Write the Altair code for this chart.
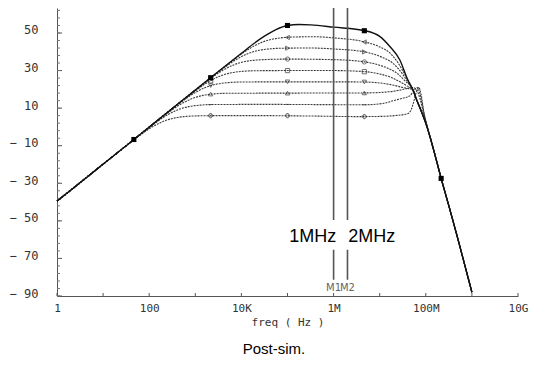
import altair as alt
import pandas as pd

# ---------------- values ----------------
GAINS = [6, 12, 18, 24, 30, 36, 42, 48, 54]

# common low-frequency asymptote (log10 f, dB)
ASYM_LOGF = [0.0, 0.5, 1.0, 1.5, 2.0, 2.5, 3.0, 3.5]
ASYM_DB = [-39.5, -29.7, -19.8, -10.0, -0.1, 9.8, 19.6, 29.5]

# common high-frequency roll-off
PRE_ROLL_LOGF = [7.8, 7.9, 8.0]
PRE_ROLL_DB = [14.5, 8.5, 2.0]
ROLL_LOGF = [8.1, 8.2, 8.34, 8.5, 8.7, 8.85, 9.0]
ROLL_DB = [-6.0, -15.0, -28.0, -42.0, -60.0, -74.0, -88.0]

G6_LOGF = [1.81, 2.06, 2.31, 2.56, 2.81, 3.06, 3.5, 4.5, 5.5, 6.5, 7.0, 7.4, 7.6, 7.68, 7.74, 7.8, 7.85, 7.9, 7.96, 8.02]
G6_DB = [-4.3, -0.1, 3.0, 4.8, 5.6, 5.9, 6.0, 6.0, 5.8, 5.5, 5.6, 6.2, 7.0, 9.0, 13.5, 19.0, 21.0, 17.0, 7.5, 1.0]
G12_LOGF = [1.86, 2.11, 2.36, 2.61, 2.86, 3.11, 3.36, 4.5, 5.5, 6.68, 7.1, 7.3, 7.5, 7.65, 7.75, 7.82, 7.88, 7.95, 8.02]
G12_DB = [-2.9, 1.7, 5.9, 9.0, 10.8, 11.6, 11.9, 12.0, 11.9, 11.8, 12.6, 14.0, 15.3, 16.5, 19.5, 21.0, 17.0, 8.5, 1.2]
G18_LOGF = [2.17, 2.42, 2.67, 2.92, 3.17, 3.42, 3.67, 5.0, 6.68, 7.2, 7.44, 7.6, 7.72, 7.8, 7.88, 7.95, 8.02]
G18_DB = [3.1, 7.7, 11.9, 15.0, 16.8, 17.6, 17.9, 18.0, 18.1, 18.7, 19.6, 20.5, 21.0, 19.8, 14.5, 7.5, 1.2]
G24_LOGF = [2.47, 2.72, 2.97, 3.22, 3.47, 3.72, 3.97, 5.0, 6.0, 6.68, 7.0, 7.3, 7.5, 7.65, 7.72]
G24_DB = [9.1, 13.7, 17.9, 21.0, 22.8, 23.6, 23.9, 24.0, 24.0, 23.9, 23.4, 22.2, 21.0, 20.3, 19.8]
G30_LOGF = [2.78, 3.03, 3.28, 3.53, 3.78, 4.03, 4.28, 5.0, 6.0, 6.68, 7.0, 7.25, 7.44, 7.6, 7.72]
G30_DB = [15.1, 19.7, 23.9, 27.0, 28.8, 29.6, 29.9, 30.0, 30.0, 29.4, 28.2, 26.3, 24.0, 21.7, 19.8]
G36_LOGF = [3.08, 3.33, 3.58, 3.83, 4.08, 4.33, 4.58, 5.0, 6.0, 6.68, 7.0, 7.2, 7.38, 7.55, 7.72]
G36_DB = [21.1, 25.7, 29.9, 33.0, 34.8, 35.6, 35.9, 36.1, 35.8, 34.6, 32.8, 31.0, 28.5, 24.5, 19.8]
G42_LOGF = [3.39, 3.64, 3.89, 4.14, 4.39, 4.64, 4.89, 5.5, 6.0, 6.68, 7.0, 7.29, 7.5, 7.62, 7.72]
G42_DB = [27.1, 31.7, 35.9, 39.0, 40.8, 41.6, 41.9, 42.0, 41.5, 39.9, 37.6, 33.8, 28.0, 23.5, 19.8]
G48_LOGF = [3.69, 3.94, 4.19, 4.44, 4.69, 4.94, 5.2, 5.6, 6.0, 6.68, 7.0, 7.22, 7.4, 7.51, 7.62, 7.72]
G48_DB = [33.1, 37.7, 41.9, 45.0, 46.8, 47.6, 47.9, 48.0, 47.4, 45.2, 42.6, 39.4, 34.0, 29.5, 24.5, 19.8]
G54_LOGF = [4.0, 4.25, 4.5, 4.75, 5.0, 5.25, 5.5, 6.0, 6.68, 7.0, 7.22, 7.44, 7.6, 7.72]
G54_DB = [39.2, 44.0, 48.3, 51.8, 54.0, 54.5, 54.3, 53.1, 51.2, 48.2, 42.8, 35.5, 25.5, 19.8]

# how many asymptote points each curve follows before its own points
ASYM_COUNT = [4, 4, 5, 5, 6, 7, 7, 8, 8]
# whether the curve meets the roll-off through the common pre-roll segment
USES_PRE_ROLL = [False, False, False, True, True, True, True, True, True]

CURVE_LOGF = [G6_LOGF, G12_LOGF, G18_LOGF, G24_LOGF, G30_LOGF, G36_LOGF, G42_LOGF, G48_LOGF, G54_LOGF]
CURVE_DB = [G6_DB, G12_DB, G18_DB, G24_DB, G30_DB, G36_DB, G42_DB, G48_DB, G54_DB]

# symbol markers
MARK_LOGF = [3.333, 5.0, 6.667]
MARK_DB = {
    6: [6.0, 6.0, 5.5],
    12: [11.9, 12.0, 11.8],
    18: [17.5, 18.0, 18.1],
    24: [22.0, 24.0, 23.9],
    30: [24.5, 30.0, 29.4],
    36: [None, 36.1, 34.6],
    42: [None, 41.9, 39.9],
    48: [None, 47.6, 45.2],
}
MARK_SHAPES = {6: "cross", 12: "stroke", 18: "triangle-up", 24: "triangle-down",
               30: "square", 36: "circle", 42: "triangle-right", 48: "triangle-left"}
TOP_MARK_LOGF = [1.667, 3.333, 5.0, 6.667, 8.333]
TOP_MARK_DB = [-6.7, 26.2, 54.0, 51.2, -27.4]

# axes
XTICK_VALUES = [0, 2, 4, 6, 8, 10]
XTICK_LABELS = ["1", "100", "10K", "1M", "100M", "10G"]
XDECADES = [0, 1, 2, 3, 4, 5, 6, 7, 8, 9, 10]
YTICK_VALUES = [-90, -70, -50, -30, -10, 10, 30, 50]
YMINOR = list(range(-90, 63, 4))

# cursors
CURSOR_LOGF = [6.0, 6.301]
CURSOR_NAMES = ["M1", "M2"]
CURSOR_TEXT = ["1MHz", "2MHz"]
CURSOR_TEXT_LOGF = [5.55, 6.83]

X_DOMAIN = [0, 10]
Y_DOMAIN = [-90, 63.3]

# ---------------- build tables ----------------
rows = []
for i, g in enumerate(GAINS):
    lf = ASYM_LOGF[:ASYM_COUNT[i]] + CURVE_LOGF[i]
    db = ASYM_DB[:ASYM_COUNT[i]] + CURVE_DB[i]
    if USES_PRE_ROLL[i]:
        lf = lf + PRE_ROLL_LOGF
        db = db + PRE_ROLL_DB
    lf = lf + ROLL_LOGF
    db = db + ROLL_DB
    for k, (a, b) in enumerate(zip(lf, db)):
        rows.append({"gain": g, "logf": a, "db": b, "k": k})
curves = pd.DataFrame(rows)

mrows = []
for g, vals in MARK_DB.items():
    for a, b in zip(MARK_LOGF, vals):
        if b is not None:
            mrows.append({"gain": g, "logf": a, "db": b, "shape": MARK_SHAPES[g]})
marks = pd.DataFrame(mrows)
top_marks = pd.DataFrame({"logf": TOP_MARK_LOGF, "db": TOP_MARK_DB})

cursors = pd.DataFrame({"logf": CURSOR_LOGF, "name": CURSOR_NAMES,
                        "db": [Y_DOMAIN[1]] * 2, "bot": [-81.4] * 2, "lab": [-85.5] * 2})
cursor_text = pd.DataFrame({"logf": CURSOR_TEXT_LOGF, "t": CURSOR_TEXT, "db": [-61.2] * 2})
box = pd.DataFrame({"logf": [4.95], "x2": [7.48], "db": [-49.5], "y2": [-65.4]})

ymin = pd.DataFrame({"db": YMINOR})
ymaj = pd.DataFrame({"db": YTICK_VALUES})
xdec = pd.DataFrame({"logf": XDECADES})

xs = alt.Scale(domain=X_DOMAIN, nice=False, zero=False)
ys = alt.Scale(domain=Y_DOMAIN, nice=False, zero=False)

xlabel_expr = " : ".join(
    f"datum.value == {v} ? '{t}'" for v, t in zip(XTICK_VALUES[:-1], XTICK_LABELS[:-1])
) + f" : '{XTICK_LABELS[-1]}'"
ylabel_expr = "datum.value < 0 ? '\u2212 ' + format(-datum.value, 'd') : format(datum.value, 'd')"

AXFONT = "DejaVu Sans Mono"

x_axis = alt.Axis(values=XTICK_VALUES, labelExpr=xlabel_expr, ticks=False, grid=False,
                  domainColor="#555", domainWidth=1, labelFont=AXFONT, labelFontSize=11,
                  labelColor="#333", labelPadding=6, labelFlush=False,
                  title="freq ( Hz )", titleFont=AXFONT, titleFontSize=11,
                  titleFontWeight="normal", titleColor="#333", titlePadding=3)
y_axis = alt.Axis(values=YTICK_VALUES, labelExpr=ylabel_expr, ticks=False, grid=False,
                  domainColor="#555", domainWidth=1, labelFont=AXFONT, labelFontSize=12,
                  labelColor="#333", labelPadding=19, labelOffset=-3, title=None)


def X(field="logf"):
    return alt.X(f"{field}:Q", scale=xs, axis=x_axis)


def Y(field="db"):
    return alt.Y(f"{field}:Q", scale=ys, axis=y_axis)


ymaj_layer = alt.Chart(ymaj).mark_rule(color="#555", strokeWidth=1).encode(
    y=Y(), x=alt.value(0), x2=alt.value(5),
)
xdec_layer = alt.Chart(xdec).mark_rule(color="#555", strokeWidth=1).encode(
    x=X(), y=alt.value(288), y2=alt.value(285),
)
ymin_layer = alt.Chart(ymin).mark_rule(color="#777", strokeWidth=1).encode(
    y=Y(), x=alt.value(0), x2=alt.value(3),
)

low_curves = alt.Chart(curves[curves.gain != 54]).mark_line(
    color="#3a3a3a", strokeWidth=1.1, strokeDash=[2, 1], interpolate="monotone"
).encode(x=X(), y=Y(), detail="gain:N", order="k:Q")
top_curve = alt.Chart(curves[curves.gain == 54]).mark_line(
    color="#111", strokeWidth=1.4, interpolate="monotone"
).encode(x=X(), y=Y(), order="k:Q")

cursor_lines = alt.Chart(cursors).mark_rule(color="#555", strokeWidth=1.6).encode(
    x=X(), y=Y(), y2="bot:Q",
)
cursor_labels = alt.Chart(cursors).mark_text(
    font="DejaVu Sans", fontSize=10, color="#666", baseline="middle", align="center"
).encode(x=X(), y=Y("lab"), text="name:N")
box_layer = alt.Chart(box).mark_rect(color="white").encode(
    x=X(), x2="x2:Q", y=Y(), y2="y2:Q",
)
cursor_big = alt.Chart(cursor_text).mark_text(
    font="Liberation Sans", fontSize=18, color="black", baseline="alphabetic", align="center"
).encode(x=X(), y=Y(), text="t:N")

sym = alt.Chart(marks).mark_point(filled=False, size=18, strokeWidth=1, color="#333").encode(
    x=X(), y=Y(), shape=alt.Shape("shape:N", scale=None, legend=None),
)
top_sym = alt.Chart(top_marks).mark_point(filled=True, shape="square", size=26, color="black", opacity=1).encode(
    x=X(), y=Y(),
)

caption = alt.Chart(pd.DataFrame({"t": ["Post-sim."]})).mark_text(
    font="Liberation Sans", fontSize=15, color="black", align="center", baseline="alphabetic"
).encode(x=alt.value(217), y=alt.value(346), text="t:N")

chart = alt.layer(
    ymaj_layer, xdec_layer, ymin_layer, low_curves, top_curve, cursor_lines,
    box_layer, cursor_big, cursor_labels, sym, top_sym, caption
).properties(
    width=461, height=288,
    padding={"left": 49, "top": 0, "right": 23, "bottom": 63},
    autosize=alt.AutoSizeParams(type="none"),
    background="white",
).configure_view(stroke=None)

chart.save("out.html", embed_options={"renderer": "svg", "actions": False})
